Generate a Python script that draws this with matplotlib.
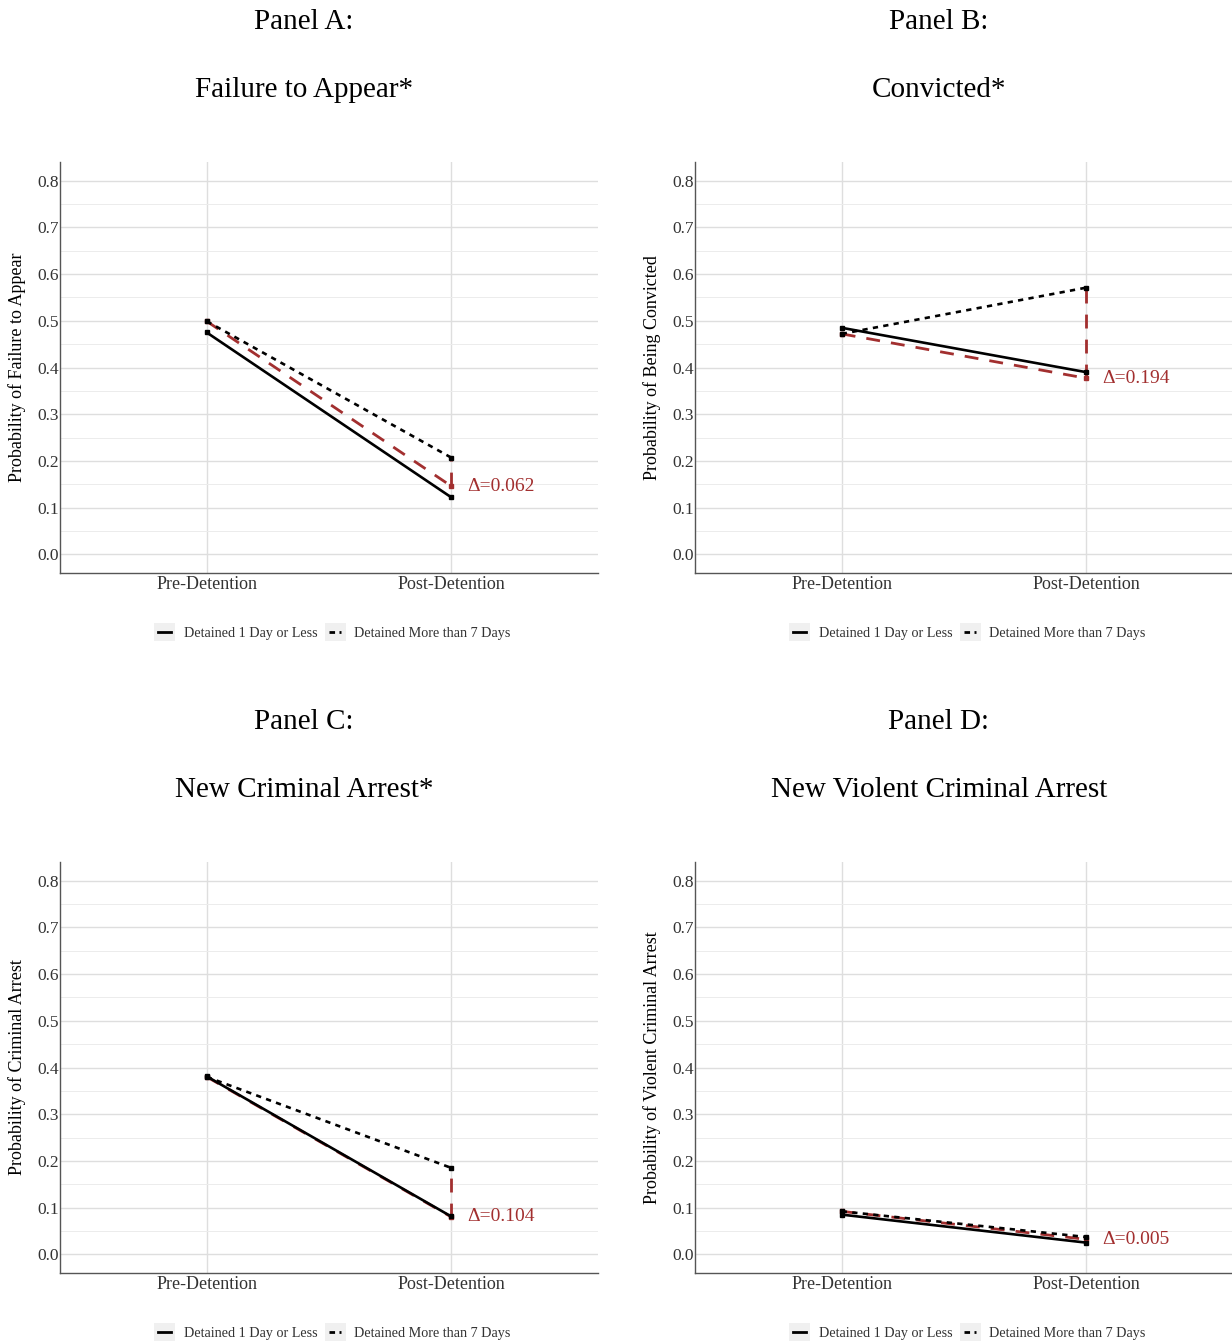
import numpy as np
import matplotlib.pyplot as plt
from matplotlib.lines import Line2D
from matplotlib.patches import Rectangle
from matplotlib.legend_handler import HandlerLine2D

plt.rcParams['font.family'] = ['Liberation Serif', 'DejaVu Serif']

# Donnees
periods = ["Pre-Detention", "Post-Detention"]
panel_titles = ["Panel A:", "Panel B:", "Panel C:", "Panel D:"]
panel_subtitles = ["Failure to Appear*", "Convicted*", "New Criminal Arrest*", "New Violent Criminal Arrest"]
ylabels = ["Probability of Failure to Appear", "Probability of Being Convicted",
           "Probability of Criminal Arrest", "Probability of Violent Criminal Arrest"]

short_A = [0.475, 0.122]
long_A = [0.499, 0.207]
short_B = [0.485, 0.390]
long_B = [0.472, 0.571]
short_C = [0.381, 0.081]
long_C = [0.380, 0.185]
short_D = [0.085, 0.025]
long_D = [0.092, 0.037]

deltas = ["0.062", "0.194", "0.104", "0.005"]

short_all = [short_A, short_B, short_C, short_D]
long_all = [long_A, long_B, long_C, long_D]

red = '#a22f2f'
W, H = 1232, 1342


# cle de legende avec fond gris (style ggplot)
class KeyHandler(HandlerLine2D):
    def create_artists(self, legend, orig_handle, xdescent, ydescent, width, height, fontsize, trans):
        rect = Rectangle((-xdescent - 3, -ydescent - 3), width + 6, height + 6,
                         facecolor='#f0f0f0', edgecolor='none', transform=trans)
        arts = super().create_artists(legend, orig_handle, xdescent, ydescent, width, height, fontsize, trans)
        return [rect] + list(arts)


fig = plt.figure(figsize=(W / 100, H / 100), dpi=100)

# positions des axes en pixels (gauche, haut)
ax_pos = [(60, 162), (695, 162), (60, 862), (695, 862)]
title_x = [304, 939, 304, 939]
title_y = [22, 722]

for i in range(4):
    left, top = ax_pos[i]
    ax = fig.add_axes([left / W, 1 - (top + 411) / H, 538 / W, 411 / H])
    x = np.array([1, 2])
    s = np.array(short_all[i])
    l = np.array(long_all[i])
    # contrefactuel : tendance du groupe court appliquee au groupe long
    cf = np.array([l[0], l[0] + (s[1] - s[0])])

    ax.plot(x, cf, color=red, lw=2, linestyle=(0, (5, 4)), marker='s', ms=3.5, zorder=3)
    ax.plot([2, 2], [cf[1], l[1]], color=red, lw=2, linestyle=(0, (5, 4)), zorder=3)
    ax.plot(x, s, color='black', lw=1.9, marker='s', ms=3.5, zorder=4)
    ax.plot(x, l, color='black', lw=1.9, linestyle=(0, (2, 2)), marker='s', ms=3.5, zorder=4)
    ax.text(2.065, cf[1], "\u0394=" + deltas[i], color=red, fontsize=14, va='center', ha='left')

    ax.set_xlim(0.4, 2.6)
    ax.set_ylim(-0.04, 0.84)
    ax.set_xticks(x)
    ax.set_xticklabels(periods, fontsize=13, color='#333333')
    ax.set_yticks(np.arange(0, 0.81, 0.1))
    ax.set_yticklabels([f"{v:.1f}" for v in np.arange(0, 0.81, 0.1)], fontsize=12.5, color='#333333')
    ax.set_yticks(np.arange(0.05, 0.80, 0.1), minor=True)
    ax.tick_params(which='both', length=0, pad=1)
    ax.tick_params(axis='x', pad=2)
    ax.grid(True, which='major', color='#dedede', lw=1)
    ax.grid(True, which='minor', axis='y', color='#ececec', lw=0.7)
    ax.set_axisbelow(True)
    for side in ['top', 'right']:
        ax.spines[side].set_visible(False)
    for side in ['left', 'bottom']:
        ax.spines[side].set_color('#555555')
        ax.spines[side].set_linewidth(1)
    ax.set_ylabel(ylabels[i], fontsize=13, va='center')
    ax.yaxis.set_label_coords(-43 / 538, 0.5)

    handles = [Line2D([], [], color='black', lw=2),
               Line2D([], [], color='black', lw=2, linestyle=(0, (2, 1.6)))]
    ax.legend(handles, ["Detained 1 Day or Less", "Detained More than 7 Days"],
              loc='upper center', bbox_to_anchor=(0.51, -0.1), ncol=2, frameon=False,
              fontsize=10.2, handlelength=0.9, handletextpad=0.9, columnspacing=0.8,
              labelcolor='#333333', handler_map={Line2D: KeyHandler()})

    row = i // 2
    fig.text(title_x[i] / W, 1 - title_y[row] / H, panel_titles[i], fontsize=21,
             ha='center', va='center')
    fig.text(title_x[i] / W, 1 - (title_y[row] + 68) / H, panel_subtitles[i], fontsize=21,
             ha='center', va='center')

plt.savefig('out.png', dpi=100)
